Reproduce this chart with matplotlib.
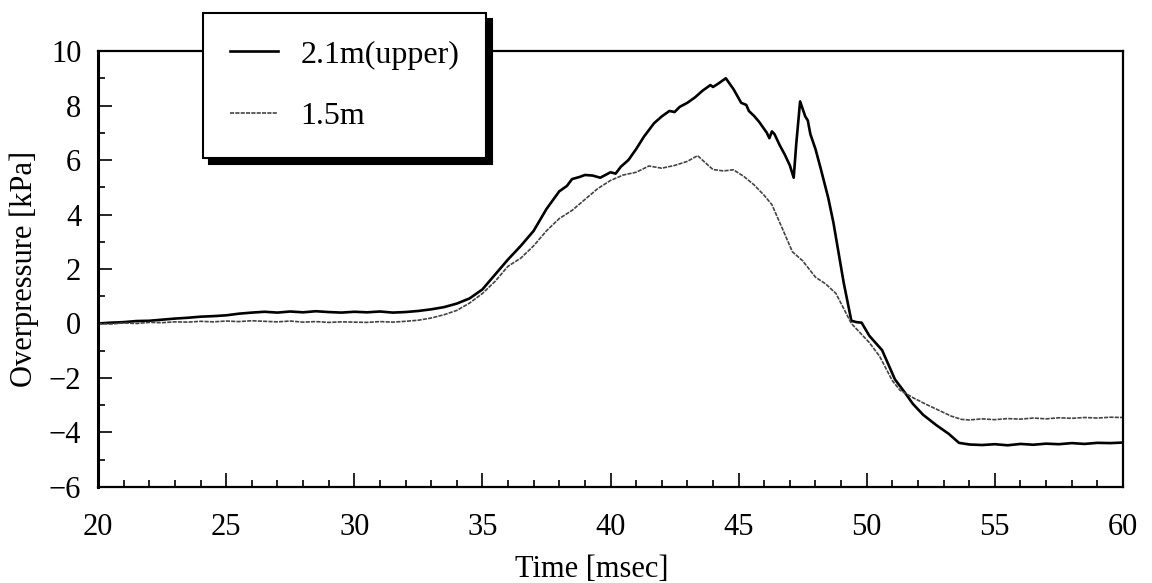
import matplotlib
matplotlib.use('Agg')
import matplotlib.pyplot as plt
from matplotlib.ticker import MultipleLocator

plt.rcParams['font.family'] = ['Liberation Serif', 'DejaVu Serif']

# overpressure traces, time in msec, pressure in kPa
t_upper = [20.0, 20.5, 21.0, 21.5, 22.0, 22.5, 23.0, 23.5, 24.0, 24.5,
           25.0, 25.5, 26.0, 26.5, 27.0, 27.5, 28.0, 28.5, 29.0, 29.5,
           30.0, 30.5, 31.0, 31.5, 32.0, 32.5, 33.0, 33.5, 34.0, 34.5,
           35.0, 35.5, 36.0, 36.5, 37.0, 37.5, 38.0, 38.3, 38.5, 38.8,
           39.0, 39.3, 39.6, 40.0, 40.2, 40.4, 40.7, 41.0, 41.3, 41.7,
           42.0, 42.3, 42.5, 42.7, 43.0, 43.3, 43.6, 43.9, 44.0, 44.2,
           44.5, 44.8, 45.1, 45.3, 45.4, 45.6, 45.8, 46.1, 46.2, 46.3,
           46.4, 46.6, 46.8, 47.0, 47.15, 47.25, 47.4, 47.6, 47.7, 47.8,
           48.0, 48.2, 48.5, 48.7, 48.9, 49.1, 49.4, 49.6, 49.8, 50.1,
           50.6, 51.1, 51.5, 51.8, 52.2, 52.7, 53.2, 53.6, 54.0, 54.5,
           55.0, 55.5, 56.0, 56.5, 57.0, 57.5, 58.0, 58.5, 59.0, 59.5,
           60.0]
p_upper = [0.00, 0.03, 0.05, 0.09, 0.10, 0.14, 0.18, 0.21, 0.25, 0.27,
           0.30, 0.36, 0.40, 0.43, 0.40, 0.44, 0.41, 0.45, 0.42, 0.40,
           0.43, 0.41, 0.44, 0.40, 0.42, 0.46, 0.52, 0.60, 0.73, 0.92,
           1.25, 1.80, 2.35, 2.85, 3.40, 4.20, 4.85, 5.05, 5.30, 5.38,
           5.45, 5.43, 5.35, 5.55, 5.50, 5.75, 6.00, 6.40, 6.85, 7.35,
           7.60, 7.80, 7.76, 7.95, 8.10, 8.30, 8.55, 8.75, 8.68, 8.80,
           9.00, 8.60, 8.10, 8.02, 7.80, 7.62, 7.40, 7.00, 6.80, 7.05,
           6.95, 6.55, 6.20, 5.80, 5.35, 6.60, 8.15, 7.60, 7.45, 6.95,
           6.40, 5.70, 4.60, 3.70, 2.60, 1.50, 0.10, 0.05, 0.03, -0.45,
           -0.98, -2.05, -2.55, -2.95, -3.35, -3.72, -4.05, -4.38, -4.44, -4.46,
           -4.43, -4.47, -4.42, -4.45, -4.41, -4.43, -4.39, -4.42, -4.38, -4.39,
           -4.37]

t_mid = [20.0, 20.5, 21.0, 21.5, 22.0, 22.5, 23.0, 23.5, 24.0, 24.5,
         25.0, 25.5, 26.0, 26.5, 27.0, 27.5, 28.0, 28.5, 29.0, 29.5,
         30.0, 30.5, 31.0, 31.5, 32.0, 32.5, 33.0, 33.5, 34.0, 34.5,
         35.0, 35.5, 36.0, 36.5, 37.0, 37.5, 38.0, 38.5, 39.0, 39.5,
         40.0, 40.5, 41.0, 41.5, 42.0, 42.5, 43.0, 43.4, 43.7, 44.0,
         44.4, 44.8, 45.2, 45.6, 46.0, 46.3, 46.7, 47.1, 47.5, 48.0,
         48.4, 48.8, 49.1, 49.4, 49.8, 50.1, 50.5, 51.0, 51.3, 51.8,
         52.3, 52.8, 53.3, 53.7, 54.0, 54.5, 55.0, 55.5, 56.0, 56.5,
         57.0, 57.5, 58.0, 58.5, 59.0, 59.5, 60.0]
p_mid = [0.00, -0.02, 0.02, 0.00, 0.04, 0.03, 0.06, 0.05, 0.08, 0.06,
         0.09, 0.07, 0.10, 0.08, 0.06, 0.09, 0.05, 0.07, 0.04, 0.06,
         0.05, 0.04, 0.07, 0.05, 0.08, 0.12, 0.20, 0.32, 0.48, 0.75,
         1.10, 1.55, 2.10, 2.40, 2.85, 3.40, 3.85, 4.15, 4.55, 4.95,
         5.25, 5.45, 5.55, 5.78, 5.70, 5.80, 5.95, 6.16, 5.90, 5.65,
         5.60, 5.64, 5.40, 5.09, 4.70, 4.36, 3.50, 2.63, 2.30, 1.70,
         1.45, 1.10, 0.55, 0.00, -0.40, -0.70, -1.20, -2.10, -2.45, -2.72,
         -2.96, -3.18, -3.40, -3.52, -3.54, -3.50, -3.53, -3.49, -3.51, -3.47,
         -3.50, -3.46, -3.48, -3.45, -3.47, -3.44, -3.45]

labels = ['2.1m(upper)', '1.5m']

fig = plt.figure(figsize=(11.52, 5.83), dpi=100)
ax = fig.add_axes([0.0851, 0.1647, 0.8897, 0.7478])

ax.plot(t_upper, p_upper, color='black', lw=1.9, label=labels[0])
ax.plot(t_mid, p_mid, color='#444444', lw=1.2, dashes=(2.5, 0.7), label=labels[1])

ax.set_xlim(20, 60)
ax.set_ylim(-6, 10)
ax.xaxis.set_major_locator(MultipleLocator(5))
ax.xaxis.set_minor_locator(MultipleLocator(1))
ax.yaxis.set_major_locator(MultipleLocator(2))
ax.yaxis.set_minor_locator(MultipleLocator(1))

ax.tick_params(which='both', direction='in', top=False, right=False, width=1.2)
ax.tick_params(which='major', length=10, labelsize=22)
ax.tick_params(which='minor', length=5)
ax.tick_params(axis='x', which='major', pad=19)
ax.tick_params(axis='y', which='major', pad=12)
for side in ax.spines.values():
    side.set_linewidth(1.6)
ax.spines['left'].set_linewidth(2.2)

ax.set_xlabel('Time [msec]', fontsize=22)
ax.set_ylabel('Overpressure [kPa]', fontsize=22)
ax.xaxis.set_label_coords(0.482, -0.155)
ax.yaxis.set_label_coords(-0.058, 0.5)

leg = ax.legend(loc='upper left', bbox_to_anchor=(203 / 1152, 1 - 13 / 583),
                bbox_transform=fig.transFigure, borderaxespad=0,
                fontsize=23, handlelength=1.5, handletextpad=0.7,
                borderpad=0.85, labelspacing=1.0, fancybox=False,
                framealpha=1, edgecolor='black',
                shadow={'ox': 4, 'oy': -4, 'color': 'black', 'alpha': 1})
leg.get_frame().set_linewidth(1.5)

fig.savefig('out.png', dpi=100)
